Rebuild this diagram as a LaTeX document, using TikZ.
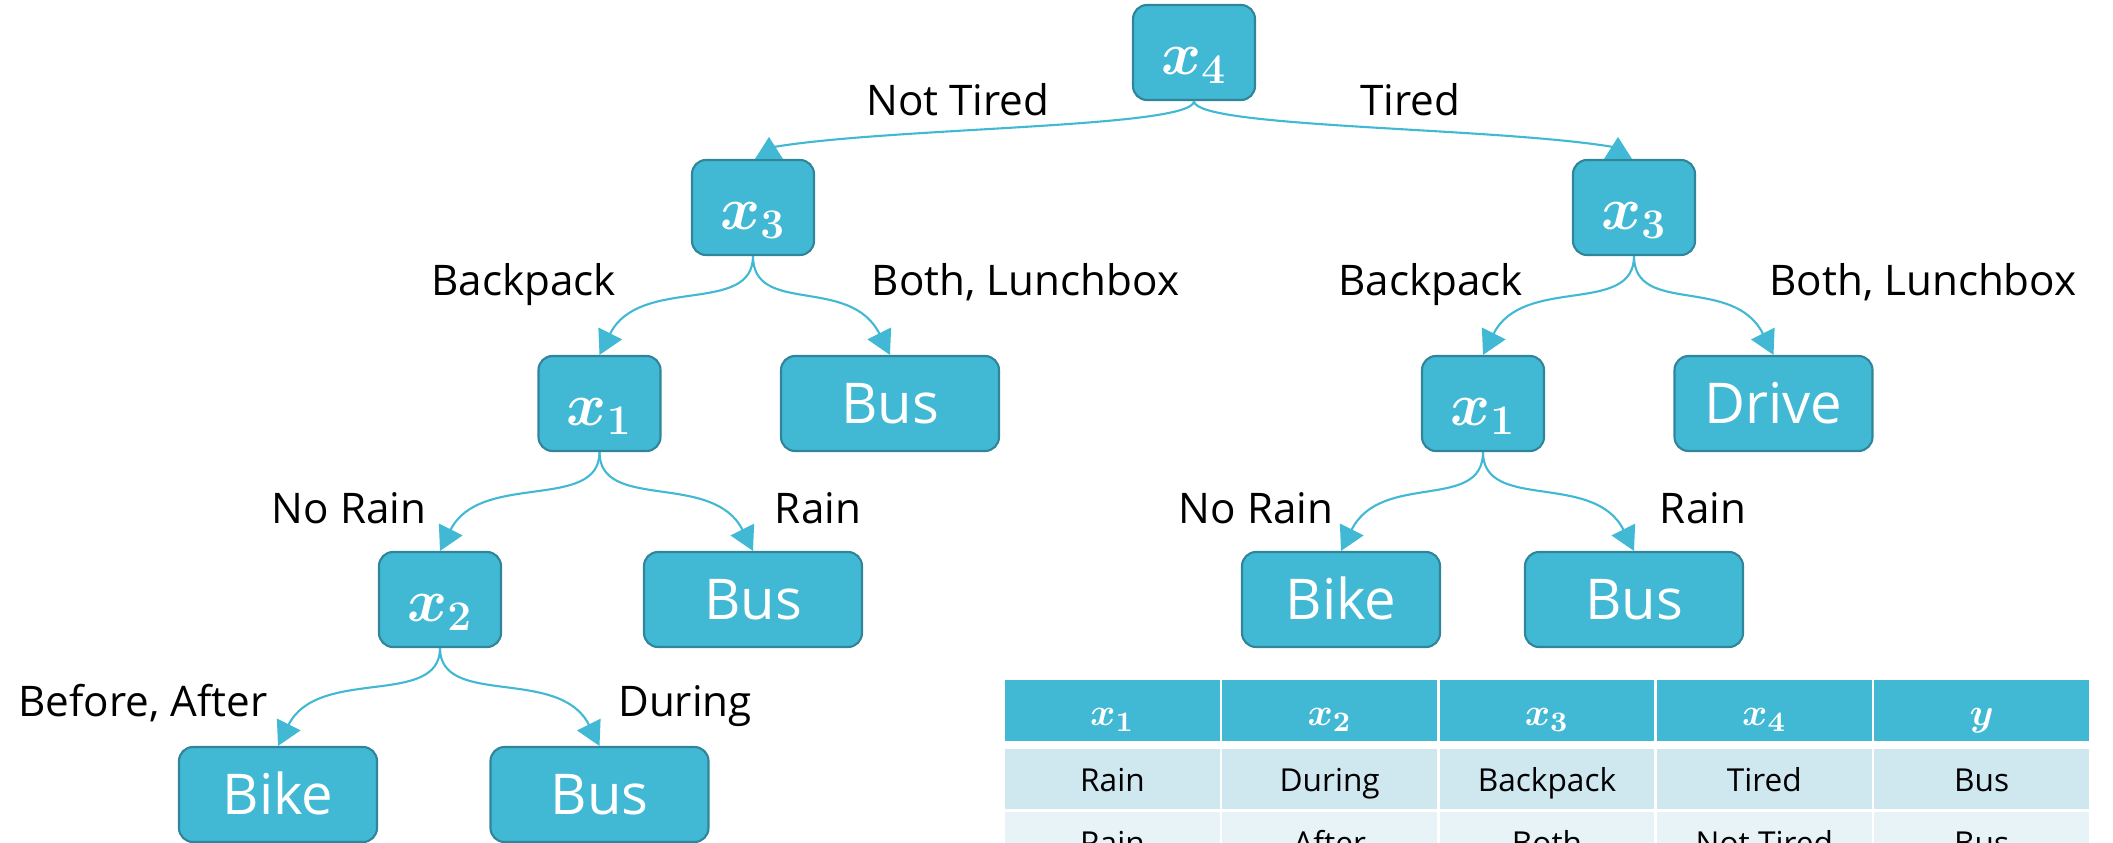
\documentclass[tikz,border=0pt]{standalone}
\usepackage[no-math]{fontspec}
\setmainfont{Open Sans}
\usetikzlibrary{arrows.meta}
\definecolor{tbfill}{HTML}{41B8D4}
\definecolor{tbline}{HTML}{31859B}
\definecolor{rowa}{HTML}{CFE7EF}
\definecolor{rowb}{HTML}{E8F3F7}

\begin{document}
\begin{tikzpicture}[
  font=\fontsize{12}{14}\selectfont, >={Triangle[width=0.26cm,length=0.24cm]},
  tbox/.style={rectangle, rounded corners=0.14cm, fill=tbfill, draw=tbline, line width=0.6pt, text=white, minimum height=0.95cm, inner sep=0pt},
  varbox/.style={tbox, minimum width=1.22cm, font=\fontsize{18}{20}\selectfont\boldmath, text height=12.6pt, text depth=0pt},
  leafbox/.style={tbox, minimum width=#1, font=\fontsize{16}{18}\selectfont, text height=11.4pt, text depth=0pt},
  branch/.style={->, draw=tbfill, line width=0.6pt},
  lbl/.style={anchor=base, text=black},
  headcell/.style={fill=tbfill, text=white, minimum width=2.148cm, minimum height=0.61cm, inner sep=0pt, font=\fontsize{11}{13}\selectfont\boldmath, text height=8.4pt, text depth=0pt},
  rowcell/.style={fill=#1, text=black, minimum width=2.148cm, minimum height=0.60cm, inner sep=0pt, font=\fontsize{9}{11}\selectfont, text height=7pt, text depth=0pt},
]
\useasboundingbox (0,0) rectangle (21.13,-8.43);
\clip (0,0) rectangle (21.13,-8.43);
% --- tree nodes ---
\node[varbox] (root) at (11.94,-0.525) {$x_4$};
\node[varbox] (x3L) at (7.53,-2.075) {$x_3$};
\node[varbox] (x3R) at (16.34,-2.075) {$x_3$};
\node[varbox] (x1L) at (5.995,-4.035) {$x_1$};
\node[leafbox=2.18cm] (busA) at (8.90,-4.035) {Bus};
\node[varbox] (x1R) at (14.83,-4.035) {$x_1$};
\node[leafbox=1.98cm] (drive) at (17.735,-4.035) {Drive};
\node[varbox] (x2) at (4.40,-5.995) {$x_2$};
\node[leafbox=2.18cm] (busB) at (7.53,-5.995) {Bus};
\node[leafbox=1.98cm] (bikeR) at (13.41,-5.995) {Bike};
\node[leafbox=2.18cm] (busC) at (16.34,-5.995) {Bus};
\node[leafbox=1.98cm] (bikeB) at (2.78,-7.945) {Bike};
\node[leafbox=2.18cm] (busD) at (5.995,-7.945) {Bus};
% --- root split: arrowheads sit on the boxes, pointing up ---
\draw[draw=tbfill, line width=0.6pt] (root.south) .. controls +(0,-0.27) and +(1.2,0.2) .. ([xshift=0.21cm,yshift=0.12cm]x3L.north);
\draw[draw=tbfill, line width=0.6pt] (root.south) .. controls +(0,-0.27) and +(-1.2,0.2) .. ([xshift=-0.21cm,yshift=0.12cm]x3R.north);
\fill[tbfill] ([xshift=0.02cm]x3L.north) -- ++(0.28,0) -- ++(-0.14,0.22) -- cycle;
\fill[tbfill] ([xshift=-0.30cm]x3R.north) -- ++(0.28,0) -- ++(-0.14,0.22) -- cycle;
% --- lower splits ---
\foreach \p/\c/\s in {x3L/x1L/1, x3L/busA/-1, x3R/x1R/1, x3R/drive/-1, x1L/x2/1, x1L/busB/-1, x1R/bikeR/1, x1R/busC/-1, x2/bikeB/1, x2/busD/-1}
  \draw[branch] (\p.south) .. controls +(0,-0.6) and +(\s*0.4,0.8) .. (\c.north);
% branch labels
\node[lbl] (lNotTired) at (9.58,-1.15) {Not Tired};
\node[lbl] (lTired) at (14.10,-1.15) {Tired};
\node[lbl] (lBackL) at (5.235,-2.95) {Backpack};
\node[lbl] (lBothL) at (10.255,-2.95) {Both, Lunchbox};
\node[lbl] (lBackR) at (14.305,-2.95) {Backpack};
\node[lbl] (lBothR) at (19.23,-2.95) {Both, Lunchbox};
\node[lbl] (lNoRainL) at (3.49,-5.23) {No Rain};
\node[lbl] (lRainL) at (8.18,-5.23) {Rain};
\node[lbl] (lNoRainR) at (12.56,-5.23) {No Rain};
\node[lbl] (lRainR) at (17.03,-5.23) {Rain};
\node[lbl] (lBefore) at (1.43,-7.16) {Before, After};
\node[lbl] (lDuring) at (6.85,-7.16) {During};
% --- data table (cut by the page edge) ---
\foreach \c/\t in {1/x_1,2/x_2,3/x_3,4/x_4,5/y}
  \node[headcell] (h\c) at ({11.124+(\c-1)*2.173},-7.105) {$\t$};
\foreach \c/\t in {1/Rain,2/During,3/Backpack,4/Tired,5/Bus}
  \node[rowcell=rowa] (a\c) at ({11.124+(\c-1)*2.173},-7.79) {\t};
\foreach \c/\t in {1/Rain,2/After,3/Both,4/Not Tired,5/Bus}
  \node[rowcell=rowb] (b\c) at ({11.124+(\c-1)*2.173},-8.42) {\t};
\end{tikzpicture}
\end{document}
